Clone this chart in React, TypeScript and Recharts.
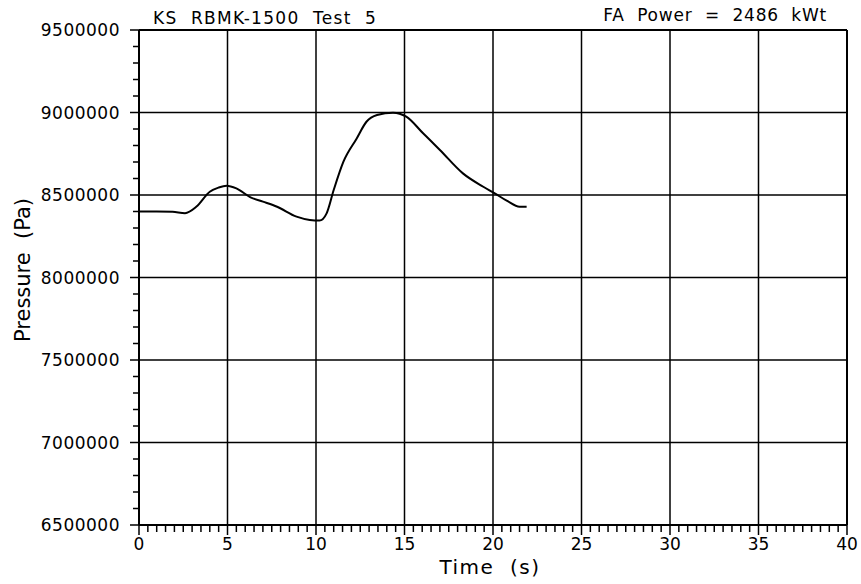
import { LineChart, Line, XAxis, YAxis, ReferenceLine } from "recharts";

/** Time (s) of each sampled point on the pressure trace. */
const timeS = [
  0, 1, 1.9, 2.6, 3.25, 4.0, 4.5, 4.95, 5.5, 6.3, 7.0, 7.8, 8.9, 9.65, 10.2,
  10.6, 11.0, 11.55, 12.3, 12.85, 13.45, 14.35, 15.1, 16.05, 17.0, 18.3,
  19.45, 20.1, 20.8, 21.5, 21.9,
];

/** Pressure (Pa) at each of the above times. */
const pressurePa = [
  8400000, 8400000, 8398000, 8390000, 8430000, 8520000, 8545000, 8556000,
  8540000, 8486000, 8460000, 8429000, 8369000, 8349000, 8345000, 8389000,
  8530000, 8702000, 8843000, 8944000, 8985000, 8999000, 8975000, 8874000,
  8773000, 8631000, 8550000, 8510000, 8464000, 8429000, 8429000,
];

const xMajorTicks = [0, 5, 10, 15, 20, 25, 30, 35, 40];
const yMajorTicks = [6500000, 7000000, 7500000, 8000000, 8500000, 9000000, 9500000];

const xMinorStep = 0.5;
const yMinorStep = 100000;

const titleLeft = "KS  RBMK-1500  Test  5";
const titleRight = "FA  Power  =  2486  kWt";
const xLabel = "Time  (s)";
const yLabel = "Pressure  (Pa)";

const FONT = "'DejaVu Sans', sans-serif";
const W = 861;
const H = 584;

const data = timeS.map((t, i) => ({ t, p: pressurePa[i] }));

const xTicks: number[] = [];
for (let v = xMajorTicks[0]; v <= xMajorTicks[xMajorTicks.length - 1] + 1e-9; v += xMinorStep) {
  xTicks.push(Math.round(v * 10) / 10);
}
const yTicks: number[] = [];
for (let v = yMajorTicks[0]; v <= yMajorTicks[yMajorTicks.length - 1]; v += yMinorStep) {
  yTicks.push(v);
}

function XTick(props: any) {
  const { x, y, payload } = props;
  const major = xMajorTicks.includes(payload.value);
  return (
    <g>
      <line x1={x} x2={x} y1={y} y2={y + (major ? 10 : 7)} stroke="#000" strokeWidth={1.5} />
      {major && (
        <text x={x} y={y + 25} textAnchor="middle" fontFamily={FONT} fontSize={17} fill="#000">
          {payload.value}
        </text>
      )}
    </g>
  );
}

function YTick(props: any) {
  const { x, y, payload } = props;
  const major = yMajorTicks.includes(payload.value);
  return (
    <g>
      <line x1={x - (major ? 9 : 6)} x2={x} y1={y} y2={y} stroke="#000" strokeWidth={1.5} />
      {major && (
        <text
          x={x - 19}
          y={y + 6}
          textAnchor="end"
          fontFamily={FONT}
          fontSize={17}
          letterSpacing={0.5}
          fill="#000"
        >
          {payload.value}
        </text>
      )}
    </g>
  );
}

export default function App() {
  const gridX = xMajorTicks.slice(1);
  const gridY = yMajorTicks.slice(1);
  return (
    <div style={{ position: "absolute", left: 0, top: 0, width: W, height: H, background: "#fff" }}>
      <LineChart width={W} height={H} data={data} margin={{ top: 30, right: 14, bottom: 0, left: 0 }}>
        <XAxis
          dataKey="t"
          type="number"
          domain={[0, 40]}
          ticks={xTicks}
          interval={0}
          height={59}
          tickSize={0}
          tickMargin={0}
          tickLine={false}
          tick={<XTick />}
          axisLine={{ stroke: "#000", strokeWidth: 2 }}
          allowDataOverflow
        />
        <YAxis
          type="number"
          domain={[6500000, 9500000]}
          ticks={yTicks}
          interval={0}
          width={139}
          tickSize={0}
          tickMargin={0}
          tickLine={false}
          tick={<YTick />}
          axisLine={{ stroke: "#000", strokeWidth: 2 }}
          allowDataOverflow
        />
        {gridX.map((v) => (
          <ReferenceLine key={"gx" + v} x={v} stroke="#000" strokeWidth={v === 40 ? 2 : 1.5} />
        ))}
        {gridY.map((v) => (
          <ReferenceLine key={"gy" + v} y={v} stroke="#000" strokeWidth={v === 9500000 ? 2 : 1.5} />
        ))}
        <Line
          dataKey="p"
          type="monotone"
          stroke="#000"
          strokeWidth={2}
          dot={false}
          isAnimationActive={false}
        />
      </LineChart>
      <svg
        width={W}
        height={H}
        style={{ position: "absolute", left: 0, top: 0, pointerEvents: "none" }}
      >
        <text
          x={153}
          y={24}
          fontFamily={FONT}
          fontSize={17}
          letterSpacing={1.3}
          fill="#000"
          style={{ whiteSpace: "pre" }}
        >
          {titleLeft}
        </text>
        <text
          x={827}
          y={21}
          textAnchor="end"
          fontFamily={FONT}
          fontSize={17}
          letterSpacing={0.8}
          fill="#000"
          style={{ whiteSpace: "pre" }}
        >
          {titleRight}
        </text>
        <text
          x={490}
          y={574}
          textAnchor="middle"
          fontFamily={FONT}
          fontSize={20}
          letterSpacing={1.5}
          fill="#000"
          style={{ whiteSpace: "pre" }}
        >
          {xLabel}
        </text>
        <text
          transform="translate(30, 270) rotate(-90)"
          textAnchor="middle"
          fontFamily={FONT}
          fontSize={21}
          fill="#000"
          style={{ whiteSpace: "pre" }}
        >
          {yLabel}
        </text>
      </svg>
    </div>
  );
}
